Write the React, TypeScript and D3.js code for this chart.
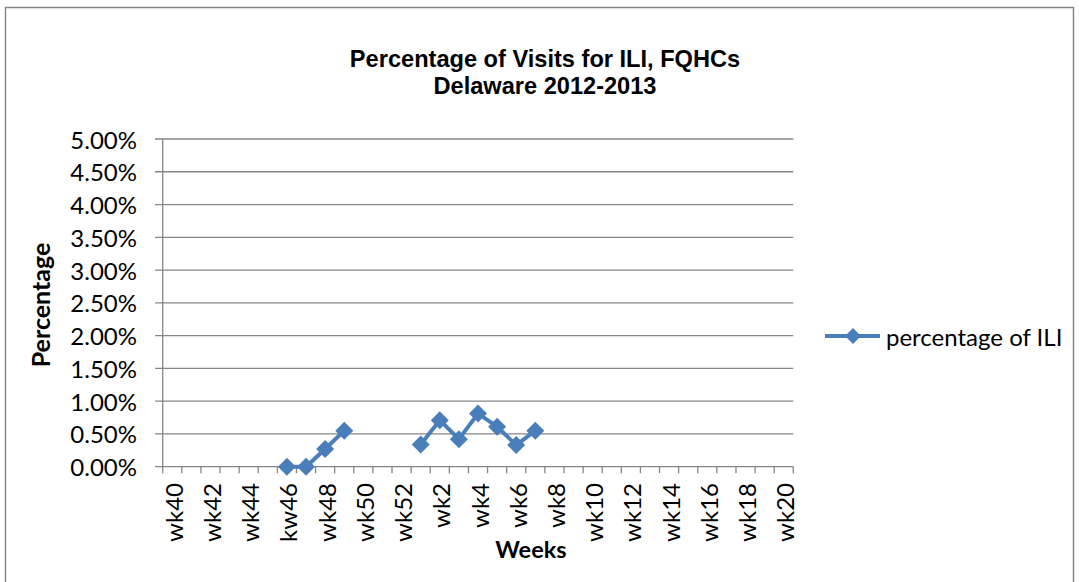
import React from 'react';
import * as d3 from 'd3';

const weeks = [
  'wk40', 'wk41', 'wk42', 'wk43', 'wk44', 'wk45', 'kw46', 'wk47', 'wk48', 'wk49', 'wk50', 'wk51', 'wk52',
  'wk1', 'wk2', 'wk3', 'wk4', 'wk5', 'wk6', 'wk7', 'wk8', 'wk9', 'wk10', 'wk11', 'wk12', 'wk13', 'wk14',
  'wk15', 'wk16', 'wk17', 'wk18', 'wk19', 'wk20',
];

const iliPct: (number | null)[] = [
  null, null, null, null, null, null, 0, 0, 0.27, 0.55, null, null, null,
  0.34, 0.71, 0.42, 0.81, 0.61, 0.33, 0.55, null, null, null, null, null, null, null,
  null, null, null, null, null, null,
];

const yTicks = [0, 0.5, 1, 1.5, 2, 2.5, 3, 3.5, 4, 4.5, 5];

const titleLines = ['Percentage of Visits for ILI, FQHCs', 'Delaware 2012-2013'];
const seriesName = 'percentage of ILI';

const BLUE = '#4A7EBB';
const GRID = '#868686';
const BODY_FONT = 'Lato, "Noto Sans", sans-serif';

export default function App() {
  const W = 1079;
  const H = 582;
  const left = 162.7;
  const right = 793.3;
  const top = 139;
  const bottom = 466.7;

  const x = d3.scaleBand<string>().domain(weeks).range([left, right]).padding(0);
  const bw = x.bandwidth();
  const cx = (w: string) => (x(w) as number) + bw / 2;
  const y = d3.scaleLinear().domain([0, 5]).range([bottom, top]);

  const pts = weeks.map((w, i) => ({ w, v: iliPct[i] }));
  const line = d3
    .line<{ w: string; v: number | null }>()
    .defined((d) => d.v !== null)
    .x((d) => cx(d.w))
    .y((d) => y(d.v as number));

  const diamond = (px: number, py: number, r: number) =>
    `M${px},${py - r}L${px + r},${py}L${px},${py + r}L${px - r},${py}Z`;

  const boundaries = d3.range(weeks.length + 1).map((i) => left + i * bw);
  const fmt = d3.format('.2f');

  return (
    <div style={{ position: 'fixed', left: 0, top: 0 }}>
      <svg width={W} height={H} style={{ display: 'block', background: '#fff' }}>
        <rect x={0} y={0} width={W} height={H} fill="#fff" />
        <rect x={5.5} y={7.5} width={1068} height={620} fill="none" stroke={GRID} strokeWidth={1.5} />

        {titleLines.map((t, i) => (
          <text
            key={t}
            x={545}
            y={66.5 + i * 27.5}
            textAnchor="middle"
            fontFamily="Liberation Sans"
            fontWeight="bold"
            fontSize={23.6}
            fill="#000"
          >
            {t}
          </text>
        ))}

        {yTicks.map((t) => (
          <g key={t}>
            <line x1={155} x2={right} y1={y(t)} y2={y(t)} stroke={GRID} strokeWidth={1.3} />
            <text
              x={137}
              y={y(t)}
              textAnchor="end"
              dominantBaseline="central"
              fontFamily={BODY_FONT}
              fontSize={24}
              fill="#000"
            >
              {fmt(t)}%
            </text>
          </g>
        ))}

        <line x1={left} x2={left} y1={top} y2={bottom} stroke={GRID} strokeWidth={1.3} />
        {boundaries.map((b, i) => (
          <line key={i} x1={b} x2={b} y1={bottom} y2={bottom + 6.5} stroke={GRID} strokeWidth={1.3} />
        ))}

        {weeks.map((w, i) =>
          i % 2 === 0 ? (
            <text
              key={w}
              transform={`translate(${cx(w) + 1},${483}) rotate(-90)`}
              textAnchor="end"
              dominantBaseline="central"
              fontFamily={BODY_FONT}
              fontSize={24}
              fill="#000"
            >
              {w}
            </text>
          ) : null
        )}

        <text
          x={531}
          y={558}
          textAnchor="middle"
          fontFamily={BODY_FONT}
          fontWeight="bold"
          fontSize={23.5}
          fill="#000"
        >
          Weeks
        </text>
        <text
          transform={`translate(${40},${305}) rotate(-90)`}
          textAnchor="middle"
          dominantBaseline="central"
          fontFamily={BODY_FONT}
          fontWeight="bold"
          fontSize={25}
          fill="#000"
        >
          Percentage
        </text>

        <path d={line(pts) || ''} fill="none" stroke={BLUE} strokeWidth={4} strokeLinejoin="round" />
        {pts
          .filter((d) => d.v !== null)
          .map((d) => (
            <path key={d.w} d={diamond(cx(d.w), y(d.v as number), 9)} fill={BLUE} />
          ))}

        <line x1={825} x2={880} y1={336} y2={336} stroke={BLUE} strokeWidth={4} />
        <path d={diamond(853, 336, 8)} fill={BLUE} />
        <text
          x={886}
          y={336}
          dominantBaseline="central"
          fontFamily={BODY_FONT}
          fontSize={24}
          fill="#000"
        >
          {seriesName}
        </text>
      </svg>
    </div>
  );
}
